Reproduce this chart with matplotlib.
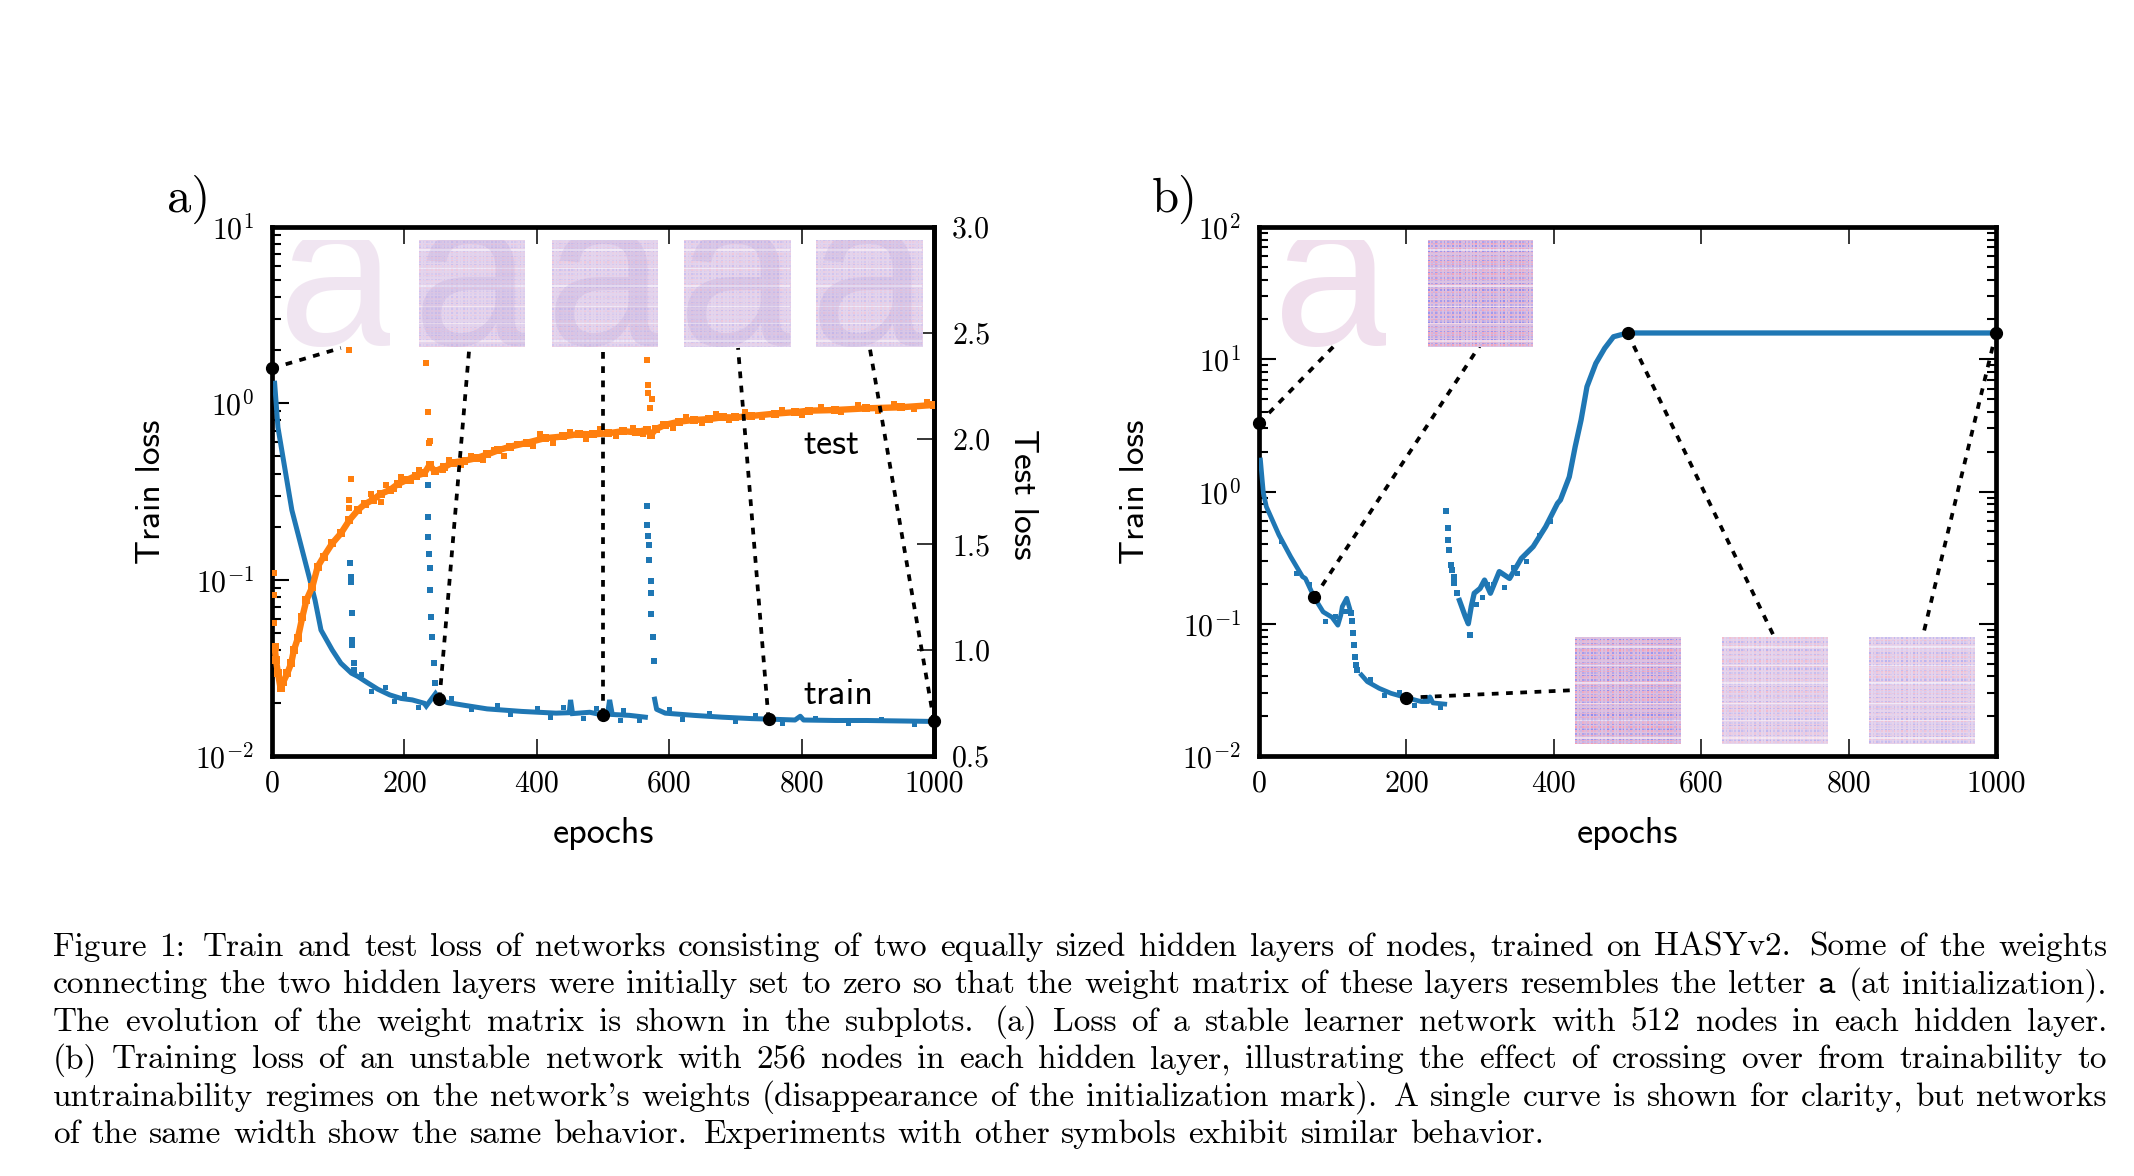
#!/usr/bin/env python3
import numpy as np
import matplotlib; matplotlib.use("Agg")
import matplotlib.pyplot as plt
from matplotlib.colors import LinearSegmentedColormap
from matplotlib.ticker import FixedLocator, FixedFormatter, NullFormatter

plt.rcParams.update({"font.family": "cmr10", "mathtext.fontset": "cm",
                     "axes.formatter.use_mathtext": True, "axes.unicode_minus": False})
W, H = 2134, 1176
BLUE = "#1f77b4"; ORANGE = "#ff7f0e"

# --- panel a: train loss, main band, jitter around it and isolated spike points
a_train_ep = [4, 9, 30, 56, 65, 74, 91, 104, 120, 130, 143, 160, 178, 195, 212, 230, 233,
              247, 253, 265, 290, 325, 377, 429, 449, 451, 454, 480, 499, 507, 510, 514, 540, 564]
a_train = [1.30, .73, .248, .104, .0766, .0518, .0399, .0336, .0295, .0282, .0262, .0239, .0222,
           .0212, .0208, .0199, .0192, .0226, .0210, .0201, .0194, .0185, .0179, .0175, .0176,
           .0208, .0174, .0177, .0171, .0175, .0208, .0172, .0170, .0166]
a_train2_ep = [578, 581, 594, 637, 680, 724, 748, 790, 798, 803, 850, 898, 950, 1000]
a_train2 = [.0210, .0184, .0175, .0170, .0166, .0163, .0162, .0160, .0168, .0160, .0159, .0159, .0158, .0157]
a_rough_ep = [135, 150, 170, 185, 200, 220, 270, 300, 340, 360, 400, 420, 440, 470, 490, 525, 530, 555,
              600, 620, 660, 700, 730, 770, 820, 870, 920, 970]
a_rough = [.0290, .0235, .0245, .0205, .0225, .0190, .0212, .0184, .0195, .0172, .0188, .0166, .0190, .0165,
           .0188, .0160, .0182, .0160, .0184, .0162, .0176, .0157, .0170, .0154, .0165, .0153, .0163, .0152]
a_spike_ep = [118, 119, 119, 121, 121, 121, 124, 124,
              235, 235, 236, 237, 238, 239, 240, 241, 244, 246,
              566, 566, 568, 570, 570, 572, 573, 573, 575, 577]
a_spike = [.125, .104, .0974, .0644, .0455, .0426, .0336, .0308,
           .344, .226, .175, .139, .117, .0875, .0617, .0471, .0336, .0258,
           .262, .204, .177, .157, .130, .0986, .0843, .0635, .0471, .0347]

# --- panel a: test loss
a_test_ep = [4, 6, 9, 13, 17, 23, 29, 33, 39, 46, 52, 61, 69, 78, 91, 104, 117, 130, 140, 152, 165, 178,
             190, 204, 218, 230, 238, 246, 260, 273, 290, 308, 325, 342, 360, 385, 412, 440, 464, 485,
             507, 530, 550, 566, 572, 580, 594, 615, 637, 660, 681, 700, 724, 760, 790, 811, 850, 898,
             950, 1000]
a_test = [1.017, .954, .891, .82, .85, .89, .938, 1.0, 1.056, 1.159, 1.237, 1.30, 1.395, 1.442, 1.505,
          1.552, 1.615, 1.663, 1.69, 1.71, 1.74, 1.757, 1.785, 1.805, 1.825, 1.836, 1.875, 1.845, 1.865,
          1.887, 1.895, 1.907, 1.925, 1.945, 1.962, 1.98, 2.002, 2.01, 2.022, 2.02, 2.025, 2.035, 2.03,
          2.041, 2.017, 2.045, 2.065, 2.08, 2.088, 2.092, 2.101, 2.10, 2.107, 2.118, 2.125, 2.132, 2.135,
          2.143, 2.148, 2.159]
a_test_rough_ep = [150, 165, 172, 185, 195, 210, 222, 258, 268, 285, 300, 318, 335, 350, 370, 395, 405, 425,
                   450, 475, 495, 520, 545, 560, 590, 605, 625, 650, 670, 690, 715, 740, 770, 800, 830,
                   860, 885, 915, 940, 970, 990]
a_test_rough = [1.74, 1.70, 1.78, 1.76, 1.82, 1.80, 1.85, 1.85, 1.90, 1.875, 1.92, 1.90, 1.945, 1.92, 1.975,
                1.965, 2.02, 1.98, 2.03, 2.00, 2.045, 2.01, 2.05, 2.02, 2.07, 2.05, 2.10, 2.075, 2.115,
                2.09, 2.125, 2.10, 2.135, 2.11, 2.15, 2.125, 2.16, 2.13, 2.165, 2.14, 2.175]
a_test_spike_ep = [3, 3, 3, 117, 120, 117, 117, 233, 235, 237, 238, 566, 568, 568, 574, 571]
a_test_spike = [1.363, 1.26, 1.127, 2.419, 1.808, 1.71, 1.671, 2.356, 2.124, 1.978, 1.99, 2.372, 2.254,
                2.214, 2.186, 2.143]

a_mark_ep = [0, 253, 500, 750, 1000]
a_mark = [1.58, .0210, .0171, .0162, .0157]
a_end_ep = [104, 298, 500, 704, 903]
a_end = [2.06, 2.06, 2.06, 2.06, 2.06]

# --- panel b: train loss
b_seg1_ep = [2, 4, 6, 10, 14, 27, 43, 59, 63, 75, 87, 99, 107, 111, 113, 119, 123]
b_seg1 = [1.73, 1.29, .97, .767, .684, .47, .321, .227, .22, .158, .123, .112, .0975, .116, .135, .156, .131]
b_seg2_ep = [139, 147, 163, 179, 200, 220, 230, 232, 236, 252]
b_seg2 = [.041, .0365, .0325, .0298, .0276, .0258, .0258, .0280, .0252, .0247]
b_seg3_ep = [272, 280, 284, 288, 292, 300, 306, 314, 326, 340, 356, 372, 389, 405, 409, 421, 429, 437,
             445, 457, 469, 481, 500, 1000]
b_seg3 = [.15, .113, .1, .135, .17, .185, .214, .17, .248, .22, .312, .383, .542, .813, .863, 1.29, 2.18,
          3.47, 6.2, 9.3, 12.1, 14.8, 15.8, 15.8]
b_rough_ep = [30, 50, 68, 90, 103, 117, 150, 170, 190, 210, 225, 245, 295, 303, 310, 318, 332, 345, 350, 362, 380, 395]
b_rough = [.42, .24, .2, .105, .115, .125, .0385, .029, .0305, .0245, .0280, .0235, .14, .16, .2, .2, .19, .27,
           .24, .3, .47, .6]
b_dots_ep = [125, 126, 127, 129, 130, 132, 133, 254, 256, 256, 258, 261, 262, 264, 265, 268, 286]
b_dots = [.12, .104, .0847, .069, .0564, .0487, .045, .716, .526, .43, .361, .278, .255, .227, .202, .17, .0822]

b_mark_ep = [0, 75, 200, 500, 1000]
b_mark = [3.28, .158, .0276, 15.8, 15.8]
b_end_ep = [103, 300, 429, 700, 900]
b_end = [12.8, 12.8, .0315, .0776, .0776]

x_ticks = [0, 200, 400, 600, 800, 1000]
x_labels = ["0", "200", "400", "600", "800", "1000"]
a_y_ticks = [1e-2, 1e-1, 1e0, 1e1]
a_y_labels = [r"$10^{-2}$", r"$10^{-1}$", r"$10^{0}$", r"$10^{1}$"]
b_y_ticks = [1e-2, 1e-1, 1e0, 1e1, 1e2]
b_y_labels = [r"$10^{-2}$", r"$10^{-1}$", r"$10^{0}$", r"$10^{1}$", r"$10^{2}$"]
test_ticks = [0.5, 1.0, 1.5, 2.0, 2.5, 3.0]
test_labels = ["0.5", "1.0", "1.5", "2.0", "2.5", "3.0"]

# texture of the weight-matrix thumbnails: row and column tints read by eye, -1 blue .. 1 pink
row_tint = [.5, -.7, .2, .9, -.4, -.9, .6, .1, -.6, .8, -.2, .4, -.8, .7, -.3, .9, -.5, .2, -.9, .6,
            .3, -.7, .8, -.1, .5, -.6, .9, -.4, .1, -.8, .7, .2, -.5, .6, -.9, .4, .8, -.3, -.7, .5]
col_tint = [.9, -.6, .4, -.9, .7, .2, -.8, .5, -.3, .8, -.7, .6, .1, -.9, .8, -.4, .3, -.6, .9, -.2]
pale_rows = [7, 21, 34, 49, 62, 75]

caption = [
    "Figure 1: Train and test loss of networks consisting of two equally sized hidden layers of nodes, trained on HASYv2. Some of the weights",
    r"connecting the two hidden layers were initially set to zero so that the weight matrix of these layers resembles the letter $\mathtt{a}$ (at initialization).",
    "The evolution of the weight matrix is shown in the subplots. (a) Loss of a stable learner network with 512 nodes in each hidden layer.",
    "(b) Training loss of an unstable network with 256 nodes in each hidden layer, illustrating the effect of crossing over from trainability to",
    "untrainability regimes on the network's weights (disappearance of the initialization mark). A single curve is shown for clarity, but networks",
    "of the same width show the same behavior. Experiments with other symbols exhibit similar behavior.",
]

fig = plt.figure(figsize=(W / 100, H / 100), dpi=100, facecolor="white")

def px_axes(x0, y0, x1, y1, **kw):
    return fig.add_axes([x0 / W, 1 - y1 / H, (x1 - x0) / W, (y1 - y0) / H], **kw)

def ftext(x, y, s, **kw):
    return fig.text(x / W, 1 - y / H, s, **kw)

def style_main(ax, y_ticks, y_labels, right=False):
    for s in ax.spines.values():
        s.set_linewidth(3.4)
    ax.set_xscale("linear"); ax.set_yscale("log")
    ax.set_xlim(0, 1000)
    ax.set_ylim(y_ticks[0], y_ticks[-1])
    ax.xaxis.set_major_locator(FixedLocator(x_ticks))
    ax.xaxis.set_major_formatter(FixedFormatter(x_labels))
    minors = [m * d for d in y_ticks[:-1] for m in range(2, 10)]
    ax.yaxis.set_major_locator(FixedLocator(y_ticks))
    ax.yaxis.set_major_formatter(FixedFormatter(y_labels))
    ax.yaxis.set_minor_locator(FixedLocator(minors))
    ax.yaxis.set_minor_formatter(NullFormatter())
    ax.tick_params(axis="x", which="major", direction="in", top=True, length=12, width=1.1,
                   labelsize=21.5, pad=10)
    ax.tick_params(axis="y", which="major", direction="in", right=right, length=12, width=1.5,
                   labelsize=21.5, pad=13)
    ax.tick_params(axis="y", which="minor", direction="in", right=right, length=6.5, width=1.5)

def thumb(x0, y0, size=(106, 107), kind="pale", letter=None, row_shift=0):
    ax = px_axes(x0, y0, x0 + size[0], y0 + size[1], zorder=10)
    ax.set_axis_off()
    rows = np.roll(np.concatenate([row_tint, np.roll(row_tint, 13)]), row_shift)
    cols_t = np.concatenate([col_tint, np.roll(col_tint, 7), np.roll(col_tint, 3)])
    grid = np.outer(rows, cols_t) + 0.5 * rows[:, None]
    if kind != "blank":
        cols = {"pale": ["#cbc0ee", "#e4d6ee", "#f0c8da"],
                "mid": ["#b8b2f0", "#e6d6ee", "#f4bccc"],
                "strong": ["#8f8cf0", "#dcc4e4", "#f89eb2"]}[kind]
        cmap = LinearSegmentedColormap.from_list("w", cols)
        ax.imshow(grid, cmap=cmap, vmin=-1.2, vmax=1.2, aspect="auto", interpolation="nearest")
        for r in pale_rows:
            ax.axhspan(r - .5, r + .5, color="white", alpha=.5, lw=0)
    if letter:
        ax.text(.5, .015, "a", transform=ax.transAxes, family="Liberation Sans", fontsize=153,
                ha="center", va="baseline", color=letter[0], alpha=letter[1], clip_on=True)
    return ax

def link(ax, x0, y0, x1, y1, tr=None):
    kw = {} if tr is None else {"transform": tr}
    ax.plot([x0, x1], [y0, y1], color="black", lw=2.7, ls=(0, (1.8, 2.0)), dash_capstyle="butt",
            clip_on=False, zorder=6, **kw)
    ax.plot([x0], [y0], "o", color="black", ms=8.5, clip_on=False, zorder=7, **kw)

# panel a
ax = px_axes(272, 227, 934, 756)
style_main(ax, a_y_ticks, a_y_labels)
ax.plot(a_train_ep, a_train, color=BLUE, lw=3.6, solid_joinstyle="miter", zorder=3)
ax.plot(a_train2_ep, a_train2, color=BLUE, lw=3.6, zorder=3)
ax.plot(a_rough_ep, a_rough, "s", color=BLUE, ms=3.6, mew=0, zorder=3)
ax.plot(a_spike_ep, a_spike, "s", color=BLUE, ms=3.8, mew=0, zorder=3)

ax2 = ax.twinx()
ax2.set_ylim(0.5, 3.0)
ax2.yaxis.set_major_locator(FixedLocator(test_ticks))
ax2.yaxis.set_major_formatter(FixedFormatter(test_labels))
ax2.tick_params(axis="y", direction="in", length=12, width=1.1, labelsize=21.5, pad=13)
ax2.spines["right"].set_linewidth(3.4)
ax2.plot(a_test_ep, a_test, color=ORANGE, lw=4.6, zorder=3)
ax2.plot(a_test_ep, a_test, "s", color=ORANGE, ms=5.2, mew=0, zorder=3)
ax2.plot(a_test_rough_ep, a_test_rough, "s", color=ORANGE, ms=4.2, mew=0, zorder=3)
ax2.plot(a_test_spike_ep, a_test_spike, "s", color=ORANGE, ms=4.0, mew=0, zorder=3)
for ep, v, e, t in zip(a_mark_ep, a_mark, a_end_ep, a_end):
    link(ax2, ep, v, e, t, tr=ax.transData)

thumb(284, 240, kind="blank", letter=("#e3cde4", .5))
for i, xp in enumerate([419, 552, 684, 816]):
    thumb(xp, 240, kind="pale", letter=("#a78fd0", .18), row_shift=i * 17)

ftext(803, 444, "test", family="cmss10", fontsize=26, va="center", ha="left")
ftext(803, 695, "train", family="cmss10", fontsize=26, va="center", ha="left")
ftext(151, 492, "Train loss", family="cmss10", fontsize=25.5, rotation=90, va="center", ha="center")
ftext(1022, 494, "Test loss", family="cmss10", fontsize=25.5, rotation=270, va="center", ha="center")
ftext(603, 834, "epochs", family="cmss10", fontsize=26, va="center", ha="center")
ftext(167, 212, "a)", fontsize=35, va="baseline", ha="left")

# panel b
bx = px_axes(1259, 227, 1996, 756)
style_main(bx, b_y_ticks, b_y_labels, right=True)
bx.plot(b_seg1_ep, b_seg1, color=BLUE, lw=3.4, zorder=3)
bx.plot(b_seg2_ep, b_seg2, color=BLUE, lw=3.4, zorder=3)
bx.plot(b_seg3_ep, b_seg3, color=BLUE, lw=3.8, zorder=3)
bx.plot(b_rough_ep, b_rough, "s", color=BLUE, ms=3.6, mew=0, zorder=3)
bx.plot(b_dots_ep, b_dots, "s", color=BLUE, ms=3.8, mew=0, zorder=3)
for ep, v, e, t in zip(b_mark_ep, b_mark, b_end_ep, b_end):
    link(bx, ep, v, e, t)

thumb(1278, 240, size=(108, 107), kind="blank", letter=("#dfb9d8", .45))
thumb(1428, 240, size=(105, 107), kind="strong", row_shift=3)
thumb(1575, 637, kind="strong", row_shift=11)
thumb(1722, 637, kind="mid", row_shift=19)
thumb(1869, 637, kind="mid", row_shift=27)

ftext(1135, 492, "Train loss", family="cmss10", fontsize=25.5, rotation=90, va="center", ha="center")
ftext(1628, 834, "epochs", family="cmss10", fontsize=26, va="center", ha="center")
ftext(1152, 212, "b)", fontsize=35, va="baseline", ha="left")

# caption: set word by word so that the lines are justified like the page
cap_left, cap_right, cap_last_right, cap_first, cap_step = 53, 2107, 1544, 956, 37.4
rend = fig.canvas.get_renderer()
for i, line in enumerate(caption):
    y = cap_first + i * cap_step
    words = [ftext(0, y, w, fontsize=24, va="baseline", ha="left") for w in line.split(" ")]
    widths = [w.get_window_extent(rend).width for w in words]
    # sentence ends get a wider space, as TeX does
    weight = [1.4 if w.get_text()[-1] in ".:" else 1.0 for w in words[:-1]]
    right = cap_last_right if i == len(caption) - 1 else cap_right
    gap = (right - cap_left - sum(widths)) / sum(weight)
    x = cap_left
    for w, wd, k in zip(words, widths, weight + [1.0]):
        w.set_x(x / W)
        x += wd + gap * k

fig.savefig("out.png", dpi=100, facecolor="white")
